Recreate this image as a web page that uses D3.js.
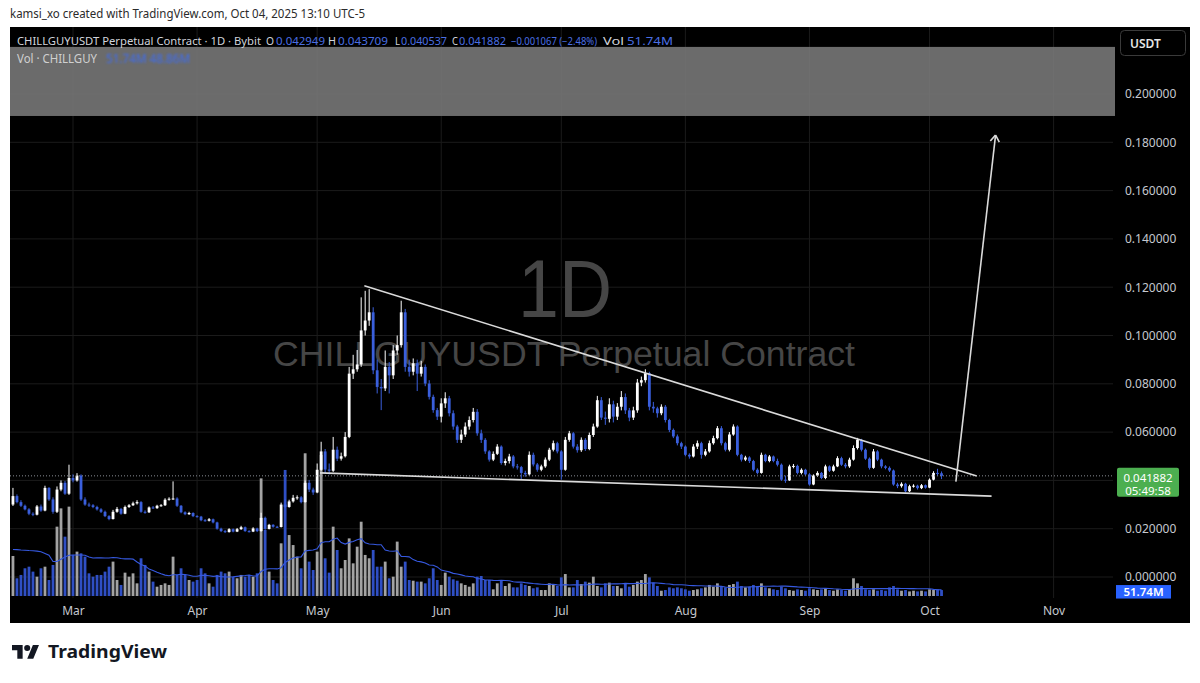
<!DOCTYPE html>
<html><head><meta charset="utf-8">
<script src="https://cdn.jsdelivr.net/npm/d3@7"></script>
<style>
html,body{margin:0;padding:0;background:#fff;}
svg{display:block;font-family:"Noto Sans","Open Sans",sans-serif;}
</style></head><body>
<svg id="c" width="1200" height="683"></svg>
<script>
// ---------------- data ----------------
const startDate = "2025-02-14";
const firstOpen = 0.0300;
const closes = [
0.0335,0.0310,0.0295,0.0280,0.0262,0.0258,0.0292,0.0275,0.0369,0.0321,
0.0270,0.0362,0.0390,0.0345,0.0410,0.0400,0.0420,0.0321,0.0300,0.0297,
0.0290,0.0280,0.0270,0.0252,0.0240,0.0270,0.0282,0.0262,0.0290,0.0297,
0.0305,0.0310,0.0270,0.0268,0.0288,0.0285,0.0295,0.0297,0.0320,0.0324,
0.0325,0.0295,0.0268,0.0260,0.0265,0.0252,0.0250,0.0235,0.0233,0.0239,
0.0226,0.0200,0.0190,0.0186,0.0198,0.0188,0.0198,0.0206,0.0190,0.0188,
0.0201,0.0190,0.0245,0.0199,0.0216,0.0208,0.0207,0.0300,0.0290,0.0313,
0.0328,0.0330,0.0310,0.0390,0.0362,0.0350,0.0444,0.0520,0.0445,0.0440,
0.0527,0.0490,0.0500,0.0580,0.0842,0.0860,0.0880,0.1021,0.1062,0.1096,
0.0856,0.0787,0.0781,0.0870,0.0835,0.0938,0.0960,0.1096,0.0870,0.0850,
0.0885,0.0842,0.0870,0.0801,0.0746,0.0691,0.0664,0.0719,0.0740,0.0678,
0.0623,0.0568,0.0590,0.0623,0.0650,0.0684,0.0595,0.0568,0.0520,0.0486,
0.0510,0.0540,0.0472,0.0480,0.0499,0.0458,0.0455,0.0431,0.0425,0.0506,
0.0466,0.0444,0.0458,0.0486,0.0527,0.0554,0.0520,0.0444,0.0568,0.0595,
0.0540,0.0525,0.0568,0.0530,0.0588,0.0623,0.0732,0.0660,0.0655,0.0715,
0.0664,0.0705,0.0745,0.0690,0.0660,0.0690,0.0805,0.0815,0.0844,0.0705,
0.0698,0.0678,0.0705,0.0650,0.0609,0.0582,0.0554,0.0540,0.0506,0.0499,
0.0540,0.0554,0.0506,0.0520,0.0554,0.0575,0.0616,0.0554,0.0527,0.0590,
0.0623,0.0506,0.0486,0.0495,0.0480,0.0444,0.0431,0.0506,0.0480,0.0499,
0.0480,0.0465,0.0403,0.0400,0.0458,0.0460,0.0431,0.0444,0.0425,0.0383,
0.0420,0.0431,0.0410,0.0458,0.0440,0.0458,0.0492,0.0465,0.0458,0.0486,
0.0534,0.0568,0.0527,0.0490,0.0452,0.0520,0.0486,0.0458,0.0452,0.0441,
0.0383,0.0376,0.0386,0.0355,0.0376,0.0378,0.0368,0.0380,0.0370,0.0403,
0.0431,0.042949,0.041882];
const highs = [
0.0369,0.0342,0.0318,0.0300,0.0285,0.0268,0.0298,0.0300,0.0378,0.0372,
0.0330,0.0375,0.0400,0.0398,0.0465,0.0425,0.0430,0.0425,0.0330,0.0308,
0.0302,0.0295,0.0285,0.0275,0.0256,0.0278,0.0290,0.0286,0.0296,0.0302,
0.0312,0.0318,0.0314,0.0276,0.0292,0.0294,0.0299,0.0302,0.0326,0.0330,
0.0396,0.0330,0.0298,0.0272,0.0270,0.0268,0.0256,0.0253,0.0240,0.0244,
0.0242,0.0229,0.0204,0.0195,0.0202,0.0201,0.0203,0.0212,0.0209,0.0194,
0.0206,0.0204,0.0266,0.0250,0.0220,0.0219,0.0212,0.0308,0.0322,0.0320,
0.0340,0.0338,0.0335,0.0400,0.0402,0.0370,0.0470,0.0560,0.0530,0.0470,
0.0580,0.0540,0.0515,0.0600,0.0870,0.0920,0.0940,0.1158,0.1185,0.1192,
0.1117,0.0900,0.0820,0.0938,0.0890,0.0960,0.1000,0.1144,0.1110,0.0900,
0.0905,0.0900,0.0895,0.0880,0.0815,0.0755,0.0700,0.0740,0.0765,0.0750,
0.0690,0.0630,0.0610,0.0640,0.0665,0.0700,0.0695,0.0610,0.0575,0.0525,
0.0520,0.0550,0.0545,0.0490,0.0510,0.0505,0.0468,0.0460,0.0440,0.0520,
0.0515,0.0472,0.0465,0.0495,0.0535,0.0565,0.0560,0.0525,0.0580,0.0605,
0.0600,0.0550,0.0578,0.0575,0.0598,0.0635,0.0750,0.0745,0.0685,0.0740,
0.0730,0.0720,0.0770,0.0760,0.0700,0.0705,0.0820,0.0830,0.0860,0.0850,
0.0725,0.0705,0.0715,0.0712,0.0655,0.0615,0.0590,0.0560,0.0545,0.0512,
0.0550,0.0565,0.0560,0.0530,0.0565,0.0585,0.0625,0.0625,0.0560,0.0600,
0.0632,0.0628,0.0510,0.0502,0.0500,0.0485,0.0450,0.0515,0.0510,0.0505,
0.0503,0.0490,0.0470,0.0420,0.0465,0.0468,0.0465,0.0450,0.0448,0.0430,
0.0425,0.0438,0.0435,0.0465,0.0462,0.0465,0.0500,0.0498,0.0472,0.0494,
0.0545,0.0576,0.0572,0.0532,0.0495,0.0530,0.0525,0.0490,0.0463,0.0458,
0.0445,0.0390,0.0392,0.0390,0.0382,0.0384,0.0382,0.0385,0.0383,0.0408,
0.0438,0.0448,0.043709];
const lows = [
0.0294,0.0305,0.0290,0.0276,0.0256,0.0252,0.0255,0.0270,0.0272,0.0315,
0.0262,0.0265,0.0355,0.0340,0.0340,0.0392,0.0395,0.0315,0.0295,0.0290,
0.0285,0.0275,0.0265,0.0248,0.0235,0.0238,0.0266,0.0258,0.0260,0.0286,
0.0294,0.0300,0.0266,0.0262,0.0265,0.0282,0.0282,0.0291,0.0294,0.0316,
0.0320,0.0290,0.0264,0.0256,0.0257,0.0248,0.0246,0.0231,0.0229,0.0230,
0.0222,0.0196,0.0186,0.0182,0.0184,0.0185,0.0186,0.0195,0.0187,0.0184,
0.0186,0.0186,0.0188,0.0195,0.0197,0.0204,0.0203,0.0205,0.0285,0.0287,
0.0308,0.0320,0.0305,0.0308,0.0352,0.0340,0.0347,0.0440,0.0430,0.0425,
0.0435,0.0480,0.0482,0.0495,0.0575,0.0820,0.0850,0.0870,0.1000,0.1040,
0.0840,0.0760,0.0691,0.0770,0.0760,0.0820,0.0920,0.0950,0.0850,0.0830,
0.0835,0.0770,0.0830,0.0790,0.0735,0.0680,0.0650,0.0640,0.0700,0.0665,
0.0610,0.0555,0.0555,0.0580,0.0610,0.0640,0.0585,0.0555,0.0510,0.0478,
0.0480,0.0505,0.0465,0.0462,0.0470,0.0450,0.0445,0.0403,0.0415,0.0420,
0.0458,0.0436,0.0438,0.0452,0.0480,0.0520,0.0512,0.0403,0.0440,0.0560,
0.0532,0.0515,0.0518,0.0522,0.0525,0.0580,0.0618,0.0650,0.0630,0.0640,
0.0640,0.0650,0.0690,0.0675,0.0645,0.0650,0.0680,0.0790,0.0805,0.0690,
0.0680,0.0660,0.0670,0.0640,0.0600,0.0575,0.0545,0.0530,0.0500,0.0490,
0.0495,0.0530,0.0490,0.0500,0.0515,0.0548,0.0570,0.0545,0.0520,0.0520,
0.0585,0.0500,0.0478,0.0480,0.0472,0.0438,0.0425,0.0428,0.0475,0.0475,
0.0475,0.0458,0.0398,0.0390,0.0398,0.0450,0.0425,0.0425,0.0420,0.0378,
0.0380,0.0415,0.0405,0.0405,0.0435,0.0436,0.0455,0.0460,0.0450,0.0452,
0.0482,0.0528,0.0520,0.0485,0.0445,0.0448,0.0480,0.0450,0.0446,0.0435,
0.0378,0.0368,0.0370,0.0350,0.0352,0.0370,0.0362,0.0364,0.0366,0.0368,
0.0400,0.0420,0.040537];
// volume, millions
const volumes = [
348,154,183,241,255,212,168,241,255,139,
270,603,762,516,777,357,386,371,342,197,
168,183,183,212,255,299,139,96,203,168,
197,110,328,270,212,125,81,96,110,96,
342,183,241,183,139,125,139,241,197,110,
81,183,212,197,212,168,154,183,168,183,
168,197,1023,574,212,139,110,458,1096,530,
443,342,241,1241,299,226,386,1226,328,203,
603,400,241,313,501,284,429,646,357,328,
400,255,255,299,154,168,473,255,299,139,
133,125,125,110,154,241,139,96,203,168,
145,133,110,96,81,110,168,174,139,139,
58,110,139,87,110,75,75,110,96,87,
67,75,52,52,110,96,87,162,191,75,
75,139,104,125,116,168,87,75,110,116,
87,87,67,110,81,96,125,139,191,162,
116,87,46,52,75,67,75,67,58,46,
52,58,67,75,96,81,110,87,75,96,
104,125,87,75,81,96,87,110,75,67,
58,52,81,67,52,46,58,52,46,67,
58,52,58,67,52,46,58,52,46,58,
154,110,87,58,52,58,46,52,46,75,
87,58,46,52,40,46,40,46,40,58,
52,58,51.74];
// volume MA for the first days (window reaches before the visible data)
const volMAStart = [405,403,400,398,395,393,390,385,370,355,300,300,320,340,355,357,357,357,355];
const volMAPeriod = 20;

const monthTicks = ["2025-03-01","2025-04-01","2025-05-01","2025-06-01","2025-07-01","2025-08-01","2025-09-01","2025-10-01","2025-11-01"];
const monthLabels = ["Mar","Apr","May","Jun","Jul","Aug","Sep","Oct","Nov"];
const priceTicks = [0,0.02,0.04,0.06,0.08,0.10,0.12,0.14,0.16,0.18,0.20];

const lastPrice = 0.041882;
const countdown = "05:49:58";
const lastVolLabel = "51.74M";

// drawings (date, price)
const upperTrend = [["2025-05-12T19:00",0.1206],["2025-10-12T19:00",0.0418]];
const lowerTrend = [["2025-05-01T17:00",0.0431],["2025-10-16T12:00",0.0335]];
const targetArrow = [["2025-10-07T14:00",0.0395],["2025-10-17T12:00",0.1830]];
const boxPrices = [0.1909,0.2195];

// legend parts: text, colour, x, width, font size
const legendParts = [
  ["CHILLGUYUSDT Perpetual Contract · 1D · Bybit", "#d1d4dc", 17, 244, 11.5],
  ["O","#d1d4dc",266,8,11.5],["0.042949","#4a6fe3",276,49,11.5],
  ["H","#d1d4dc",328,8,11.5],["0.043709","#4a6fe3",338,50,11.5],
  ["L","#d1d4dc",395,5,11.5],["0.040537","#4a6fe3",401,46,11.5],
  ["C","#d1d4dc",452,6,11.5],["0.041882","#4a6fe3",459,47,11.5],
  ["−0.001067 (−2.48%)","#4a6fe3",511,86,10],
  ["Vol","#d1d4dc",603,21,11.5],["51.74M","#4a6fe3",627,46,11.5]
];

// ---------------- chart ----------------
const svg = d3.select("#c");
const P = {l:10, r:1113, t:27, b:598};
const parseD = d3.utcParse("%Y-%m-%d");
const parseT = d3.utcParse("%Y-%m-%dT%H:%M");
const x = d3.scaleUtc().domain([parseD("2025-03-01"), parseD("2025-11-01")]).range([73, 1053.6]);
const y = d3.scaleLinear().domain([0, 0.2]).range([577, 94]);
const yv = d3.scaleLinear().domain([0, 1300]).range([596, 446.5]);

const defs = svg.append("defs");
defs.append("clipPath").attr("id","plotclip").append("rect")
  .attr("x",P.l).attr("y",P.t).attr("width",P.r-P.l).attr("height",P.b-P.t);
defs.append("filter").attr("id","blur").append("feGaussianBlur").attr("stdDeviation",0.9);

svg.append("rect").attr("width",1200).attr("height",683).attr("fill","#ffffff");
svg.append("rect").attr("x",10).attr("y",27).attr("width",1180).attr("height",596).attr("fill","#000000");

// header
svg.append("text").attr("x",10).attr("y",18).attr("font-size",13).attr("fill","#2b2b2b")
  .attr("textLength",355).attr("lengthAdjust","spacingAndGlyphs")
  .text("kamsi_xo created with TradingView.com, Oct 04, 2025 13:10 UTC-5");

const g = svg.append("g").attr("clip-path","url(#plotclip)");

// grid
const monthDates = monthTicks.map(parseD);
g.selectAll("line.vg").data(monthDates).join("line").attr("class","vg")
  .attr("x1",d=>x(d)).attr("x2",d=>x(d)).attr("y1",P.t).attr("y2",P.b)
  .attr("stroke","#1b1b1b").attr("stroke-width",1);
g.selectAll("line.hg").data(priceTicks).join("line").attr("class","hg")
  .attr("x1",P.l).attr("x2",P.r).attr("y1",d=>y(d)).attr("y2",d=>y(d))
  .attr("stroke","#1b1b1b").attr("stroke-width",1);

// watermark
g.append("text").attr("x",565).attr("y",317).attr("text-anchor","middle")
  .attr("font-family","Liberation Sans, Arial, sans-serif")
  .attr("font-size",82).attr("fill","#464646").attr("textLength",94).attr("lengthAdjust","spacingAndGlyphs").text("1D");
g.append("text").attr("x",564).attr("y",366).attr("text-anchor","middle")
  .attr("font-family","Liberation Sans, Arial, sans-serif")
  .attr("font-size",35).attr("fill","#464646").attr("textLength",582).attr("lengthAdjust","spacingAndGlyphs")
  .text("CHILLGUYUSDT Perpetual Contract");

// data objects
const t0 = parseD(startDate);
const data = closes.map((c,i)=>({
  date: d3.utcDay.offset(t0, i),
  o: i===0 ? firstOpen : closes[i-1],
  h: highs[i], l: lows[i], c: c, v: volumes[i]
}));
const UP = "#ffffff", DOWN = "#3a5fdc";
const bw = 2.8;

// volume bars
g.selectAll("rect.vol").data(data).join("rect").attr("class","vol")
  .attr("x",d=>x(d.date)-bw/2).attr("width",bw)
  .attr("y",d=>yv(d.v)).attr("height",d=>yv(0)-yv(d.v))
  .attr("fill",d=>d.c>=d.o ? "#a3a3a3" : "#2f4fc4");

// volume MA
const volMA = data.map((d,i)=>{
  if (i < volMAStart.length) return volMAStart[i];
  return d3.mean(volumes.slice(i-volMAPeriod+1, i+1));
});
g.append("path").datum(data)
  .attr("d", d3.line().x(d=>x(d.date)).y((d,i)=>yv(volMA[i])))
  .attr("fill","none").attr("stroke","#3659e0").attr("stroke-width",1.1);

// candles
const cg = g.selectAll("g.candle").data(data).join("g").attr("class","candle");
cg.append("line")
  .attr("x1",d=>x(d.date)).attr("x2",d=>x(d.date))
  .attr("y1",d=>y(d.h)).attr("y2",d=>y(d.l))
  .attr("stroke",d=>d.c>=d.o?UP:DOWN).attr("stroke-width",1);
cg.append("rect")
  .attr("x",d=>x(d.date)-bw/2).attr("width",bw)
  .attr("y",d=>y(Math.max(d.o,d.c)))
  .attr("height",d=>Math.max(1, Math.abs(y(d.o)-y(d.c))))
  .attr("fill",d=>d.c>=d.o?UP:DOWN);

// last price dotted line
g.append("line").attr("x1",P.l).attr("x2",P.r).attr("y1",y(lastPrice)).attr("y2",y(lastPrice))
  .attr("stroke","#8a8d95").attr("stroke-width",1).attr("stroke-dasharray","1,2");

// drawings
const pt = p => [x(parseT(p[0])), y(p[1])];
[upperTrend, lowerTrend, targetArrow].forEach(seg=>{
  const a = pt(seg[0]), b = pt(seg[1]);
  g.append("line").attr("x1",a[0]).attr("y1",a[1]).attr("x2",b[0]).attr("y2",b[1])
    .attr("stroke","#dadada").attr("stroke-width",1.6);
});
{
  const a = pt(targetArrow[0]), b = pt(targetArrow[1]);
  const ang = Math.atan2(a[1]-b[1], a[0]-b[0]);
  const L = 8, sp = 0.6;
  [ang+sp, ang-sp].forEach(t=>{
    g.append("line").attr("x1",b[0]).attr("y1",b[1])
      .attr("x2",b[0]+L*Math.cos(t)).attr("y2",b[1]+L*Math.sin(t))
      .attr("stroke","#dadada").attr("stroke-width",1.6);
  });
}

// gray rectangle drawing
svg.append("rect").attr("x",P.l).attr("width",P.r+2-P.l)
  .attr("y",y(boxPrices[1])).attr("height",y(boxPrices[0])-y(boxPrices[1]))
  .attr("fill","#7a7a7a").attr("fill-opacity",0.88);

// legend
const lg = svg.append("g");
lg.selectAll("text").data(legendParts).join("text")
  .attr("x",d=>d[2]).attr("y",45).attr("fill",d=>d[1]).attr("font-size",d=>d[4])
  .attr("textLength",d=>d[3]).attr("lengthAdjust","spacingAndGlyphs").text(d=>d[0]);
svg.append("text").attr("x",17).attr("y",63).attr("font-size",12).attr("fill","#d0d0d0")
  .attr("textLength",80).attr("lengthAdjust","spacingAndGlyphs").text("Vol · CHILLGUY");
svg.append("text").attr("x",106).attr("y",63).attr("font-size",12).attr("fill","#3d6cf0")
  .attr("filter","url(#blur)").attr("textLength",84).attr("lengthAdjust","spacingAndGlyphs").text("51.74M  48.86M");

// right price axis (labels hidden where the last-price label covers them)
const ly = y(lastPrice);
const ya = svg.append("g").attr("transform","translate(1125,0)")
  .call(d3.axisRight(y).tickValues(priceTicks.filter(t=>Math.abs(y(t)-ly)>16))
    .tickFormat(d3.format(".6f")).tickSize(0).tickPadding(0));
ya.select(".domain").remove();
ya.selectAll("text").attr("fill","#c5c8cf").attr("font-size",12).attr("font-family","Noto Sans, sans-serif");

// time axis
const xa = svg.append("g").attr("transform","translate(0,606)")
  .call(d3.axisBottom(x).tickValues(monthDates).tickFormat((d,i)=>monthLabels[i]).tickSize(0).tickPadding(0));
xa.select(".domain").remove();
xa.selectAll("text").attr("fill","#c5c8cf").attr("font-size",12).attr("font-family","Noto Sans, sans-serif");

// USDT button
svg.append("rect").attr("x",1120.5).attr("y",30.5).attr("width",65).attr("height",25).attr("rx",4)
  .attr("fill","#000").attr("stroke","#3a3a3a");
svg.append("text").attr("x",1130).attr("y",47.5).attr("font-size",12).attr("font-weight",600).attr("fill","#e6e6e6").text("USDT");

// last price label
svg.append("rect").attr("x",1117).attr("y",ly-8).attr("width",62).attr("height",29).attr("rx",2).attr("fill","#4caf50");
svg.append("text").attr("x",1148).attr("y",ly+6).attr("text-anchor","middle").attr("font-size",11.5).attr("fill","#ffffff").text(lastPrice.toFixed(6));
svg.append("text").attr("x",1148).attr("y",ly+19).attr("text-anchor","middle").attr("font-size",11.5).attr("fill","#ffffff").text(countdown);

// last volume label
const vy = yv(volumes[volumes.length-1]);
svg.append("rect").attr("x",1116).attr("y",vy-5).attr("width",55).attr("height",13.5).attr("fill","#2962ff");
svg.append("text").attr("x",1143.5).attr("y",vy+6).attr("text-anchor","middle").attr("font-size",11.5).attr("font-weight",600).attr("fill","#ffffff").text(lastVolLabel);

// footer logo
const logo = svg.append("g").attr("transform","translate(12,642) scale(0.76)").attr("fill","#131722");
logo.append("path").attr("d","M14 22H7V11H0V4h14v18zM28 22h-8l7.5-18h8L28 22z");
logo.append("circle").attr("cx",20).attr("cy",8).attr("r",4);
svg.append("text").attr("x",48).attr("y",658).attr("font-size",18).attr("font-weight",700).attr("fill","#131722")
  .attr("textLength",119).attr("lengthAdjust","spacingAndGlyphs").text("TradingView");
</script>
</body></html>
